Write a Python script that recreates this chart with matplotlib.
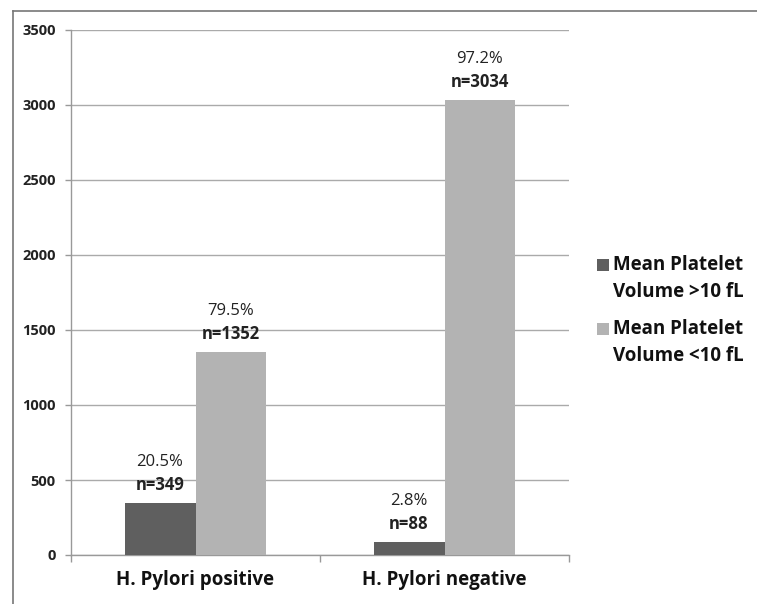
import matplotlib
matplotlib.use("Agg")
import matplotlib.pyplot as plt
from matplotlib.lines import Line2D
from matplotlib.patches import Rectangle
import numpy as np

categories = ["H. Pylori positive", "H. Pylori negative"]
series_names = ["Mean Platelet\nVolume >10 fL", "Mean Platelet\nVolume <10 fL"]
high_mpv = [349, 88]
low_mpv = [1352, 3034]
high_pct = ["20.5%", "2.8%"]
low_pct = ["79.5%", "97.2%"]
yticks = [0, 500, 1000, 1500, 2000, 2500, 3000, 3500]

colors = ["#5f5f5f", "#b3b3b3"]
plt.rcParams['font.family'] = ['Open Sans', 'DejaVu Sans']

W, H = 757, 604
fig = plt.figure(figsize=(W / 100, H / 100), dpi=100)
ax = fig.add_axes([71 / W, 1 - 555 / H, (569 - 71) / W, (555 - 30) / H])

x = np.arange(len(categories))
bw = 0.285
b1 = ax.bar(x - bw / 2, high_mpv, bw, color=colors[0], zorder=3, label=series_names[0])
b2 = ax.bar(x + bw / 2, low_mpv, bw, color=colors[1], zorder=3, label=series_names[1])

for bars, pcts, vals in [(b1, high_pct, high_mpv), (b2, low_pct, low_mpv)]:
    for rect, p, v in zip(bars, pcts, vals):
        cx = rect.get_x() + rect.get_width() / 2
        ax.annotate(f"n={v}", (cx, v), xytext=(0, 13), textcoords="offset points",
                    ha="center", va="center", fontsize=12, fontweight="bold", color="#222222")
        ax.annotate(p, (cx, v), xytext=(0, 29.5), textcoords="offset points",
                    ha="center", va="center", fontsize=12, color="#222222")

ax.set_xlim(-0.5, 1.5)
ax.set_ylim(0, 3500)
ax.set_yticks(yticks)
ax.set_yticklabels([str(t) for t in yticks], fontsize=10.5, fontweight="bold", color="#222222")
ax.set_xticks(x)
ax.set_xticklabels(categories, fontsize=13.5, fontweight="bold", color="#111111")
ax.tick_params(axis="x", length=0, pad=11)
ax.tick_params(axis="y", length=4, color="#999999", width=1, pad=7)
ax.set_xticks([-0.5, 0.5, 1.5], minor=True)
ax.tick_params(axis="x", which="minor", length=5, color="#999999", width=1)
ax.grid(axis="y", color="#aaaaaa", linewidth=1, zorder=0)
for s in ["top", "right"]:
    ax.spines[s].set_visible(False)
for s in ["left", "bottom"]:
    ax.spines[s].set_color("#999999")
    ax.spines[s].set_linewidth(1)

# legend: square aligned with the first line of each two-line label
leg_x_sq = 597 / W
leg_x_txt = 613 / W
sq = 12
text_baselines = [297, 361]   # baseline of the last line of each label (px from top)
square_centers = [265, 329]
for name, col, yb, yc in zip(series_names, colors, text_baselines, square_centers):
    fig.text(leg_x_txt, 1 - yb / H, name, ha="left", va="baseline", fontsize=13.5,
             fontweight="bold", color="#111111", linespacing=1.45)
    fig.add_artist(Rectangle((leg_x_sq, 1 - (yc + sq / 2) / H), sq / W, sq / H,
                             transform=fig.transFigure, facecolor=col, edgecolor="none"))

# outer frame (left and top edges)
fig.add_artist(Line2D([13 / W, 13 / W], [0, 1 - 11 / H], color="#777777", linewidth=1.2,
                      transform=fig.transFigure))
fig.add_artist(Line2D([13 / W, 1], [1 - 11 / H, 1 - 11 / H], color="#777777", linewidth=1.2,
                      transform=fig.transFigure))

fig.savefig("out.png", dpi=100, facecolor="white")
